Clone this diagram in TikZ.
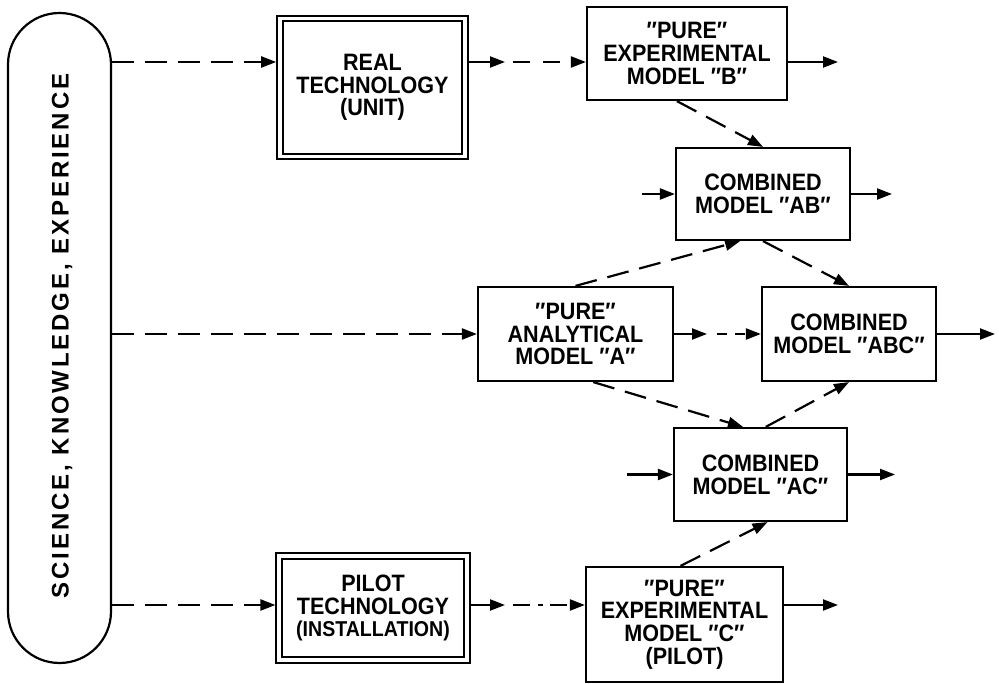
\documentclass[tikz,border=0pt]{standalone}
\usepackage{fontspec}
\newfontfamily\diag{Liberation Sans}[FakeStretch=0.91]
\newfontfamily\pillfont{Liberation Sans}[LetterSpace=12]
\usetikzlibrary{arrows.meta,calc}
\newcommand\boxfont{\diag\bfseries\fontsize{23.7}{22.7}\selectfont}
\begin{document}
\begin{tikzpicture}[x=1pt,y=-1pt,
  box/.style={draw, line width=2.2pt, align=center, inner sep=0pt, font=\boxfont},
  dbox/.style={box, double, line width=2pt, double distance=3.6pt, outer sep=3.8pt},
  arr/.style={line width=2.2pt, -{Triangle[length=15pt,width=11pt]}},
  darr/.style={arr, dash pattern=on 22pt off 11pt},
]
\useasboundingbox (0,0) rectangle (999,684);
% pill
\node[draw, line width=2.2pt, rounded corners=51.5pt, minimum width=103, minimum height=650, inner sep=0pt] (sci) at (59.5,338) {};
\node[rotate=90, font=\pillfont\bfseries\fontsize{24}{24}\selectfont] (scit) at (62,336) {SCIENCE, KNOWLEDGE, EXPERIENCE};
% boxes
\node[dbox, minimum width=185, minimum height=138] (rt) at (372.5,87.5) {REAL\\TECHNOLOGY\\(UNIT)};
\node[box, minimum width=200, minimum height=93] (B) at (687,53.5) {″PURE″\\EXPERIMENTAL\\MODEL ″B″};
\node[box, minimum width=174, minimum height=92] (AB) at (763,194) {COMBINED\\MODEL ″AB″};
\node[box, minimum width=195, minimum height=94] (A) at (575.5,334) {″PURE″\\ANALYTICAL\\MODEL ″A″};
\node[box, minimum width=174, minimum height=94] (ABC) at (849,334) {COMBINED\\MODEL ″ABC″};
\node[box, minimum width=173, minimum height=93] (AC) at (760.5,474.5) {COMBINED\\MODEL ″AC″};
\node[dbox, minimum width=187.5, minimum height=104.5] (pt) at (373,608) {PILOT\\TECHNOLOGY\\{\fontsize{21.5}{22.7}\selectfont(INSTALLATION)}};
\node[box, minimum width=197, minimum height=115] (C) at (684.5,624.5) {″PURE″\\EXPERIMENTAL\\MODEL ″C″\\(PILOT)};
% coordinates
\coordinate (r1) at (0,62);
\coordinate (r3) at (0,605);
\coordinate (q1) at (505,62);
\coordinate (q1b) at (513,62);
\coordinate (bo) at (838,62);
\coordinate (abi) at (642,194);
\coordinate (abo) at (892,194);
\coordinate (q2) at (707,334);
\coordinate (q2b) at (717,334);
\coordinate (abco) at (995,334);
\coordinate (aci) at (627,474.5);
\coordinate (aco) at (895,474.5);
\coordinate (q3) at (505,605);
\coordinate (q3b) at (513,605);
\coordinate (co) at (838,605);
% connectors
\draw[darr] (sci.east |- r1) -- (rt.west |- r1);
\draw[arr] (rt.east |- r1) -- (q1);
\draw[darr, dash pattern=on 17pt off 13pt] (q1b) -- (B.west |- r1);
\draw[arr] (B.east |- r1) -- (bo);
\draw[darr] ($(B.south west)!0.45!(B.south east)$) -- (AB.north);
\draw[arr] (abi) -- (AB.west);
\draw[arr] (AB.east) -- (abo);
\draw[darr] (sci.east |- A.west) -- (A.west);
\draw[darr] (A.north) -- ($(AB.south west)!0.37!(AB.south east)$);
\draw[darr] (AB.south) -- (ABC.north);
\draw[arr] (A.east) -- (q2);
\draw[darr, dash pattern=on 10pt off 8pt] (q2b) -- (ABC.west);
\draw[arr] (ABC.east) -- (abco);
\draw[darr] ($(A.south west)!0.59!(A.south east)$) -- ($(AC.north west)!0.40!(AC.north east)$);
\draw[darr] ($(AC.north west)!0.53!(AC.north east)$) -- (ABC.south);
\draw[arr] (aci) -- (AC.west);
\draw[arr] (AC.east) -- (aco);
\draw[darr] (sci.east |- r3) -- (pt.west |- r3);
\draw[arr] (pt.east |- r3) -- (q3);
\draw[darr, dash pattern=on 17pt off 8pt on 5pt off 7pt] (q3b) -- (C.west |- r3);
\draw[arr] (C.east |- r3) -- (co);
\draw[darr] ($(C.north west)!0.48!(C.north east)$) -- ($(AC.south west)!0.54!(AC.south east)$);
\end{tikzpicture}
\end{document}
